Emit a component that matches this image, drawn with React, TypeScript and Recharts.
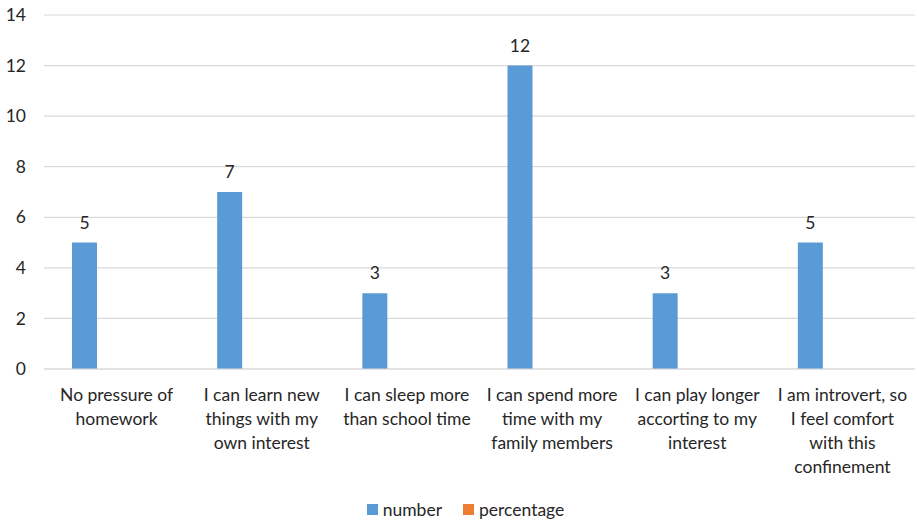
import React from "react";
import {
  BarChart,
  Bar,
  XAxis,
  YAxis,
  CartesianGrid,
  Legend,
  LabelList,
} from "recharts";

// survey answers: why pupils like staying at home
const categories = [
  "No pressure of\nhomework",
  "I can learn new\nthings with my\nown interest",
  "I can sleep more\nthan school time",
  "I can spend more\ntime with my\nfamily members",
  "I can play longer\naccorting to my\ninterest",
  "I am introvert, so\nI feel comfort\nwith this\nconfinement",
];
const numberValues = [5, 7, 3, 12, 3, 5];
const percentageValues = [0, 0, 0, 0, 0, 0];
const yTicks = [0, 2, 4, 6, 8, 10, 12, 14];

const data = categories.map((name, i) => ({
  name,
  number: numberValues[i],
  percentage: percentageValues[i],
}));

const FONT = "Lato, 'Open Sans', sans-serif";
const TEXT = "#262626";
const FS = 17.5;

const CategoryTick = ({ x, y, payload }: any) => {
  const lines = String(payload.value).split("\n");
  return (
    <g transform={`translate(${x},${y})`}>
      <text textAnchor="middle" fill={TEXT} fontSize={FS} fontFamily={FONT}>
        {lines.map((line, i) => (
          <tspan key={i} x={0} y={401 - y + i * 24}>
            {line}
          </tspan>
        ))}
      </text>
    </g>
  );
};

const LegendContent = () => (
  <div
    style={{
      display: "flex",
      justifyContent: "center",
      alignItems: "center",
      fontFamily: FONT,
      fontSize: FS,
      color: TEXT,
      paddingLeft: 16,
      paddingTop: 6,
    }}
  >
    <span style={{ display: "flex", alignItems: "center", marginRight: 21 }}>
      <span
        style={{ width: 11, height: 11, background: "#5B9BD5", marginRight: 5 }}
      />
      number
    </span>
    <span style={{ display: "flex", alignItems: "center" }}>
      <span
        style={{ width: 11, height: 11, background: "#ED7D31", marginRight: 5 }}
      />
      percentage
    </span>
  </div>
);

const App: React.FC = () => {
  return (
    <div style={{ position: "absolute", left: 0, top: 0, background: "#fff" }}>
      <BarChart
        width={917}
        height={523}
        data={data}
        margin={{ top: 15, right: 2, left: 0, bottom: 0 }}
        barGap={40}
        barSize={25}
      >
        <CartesianGrid vertical={false} stroke="#d9d9d9" strokeWidth={1.2} />
        <XAxis
          dataKey="name"
          interval={0}
          height={124}
          tickLine={false}
          axisLine={{ stroke: "#d9d9d9", strokeWidth: 1.2 }}
          tick={<CategoryTick />}
        />
        <YAxis
          width={44}
          domain={[0, 14]}
          ticks={yTicks}
          tickLine={false}
          axisLine={false}
          tickMargin={12}
          tick={{ fill: TEXT, fontSize: FS, fontFamily: FONT }}
        />
        <Legend verticalAlign="bottom" height={30} content={<LegendContent />} />
        <Bar dataKey="number" fill="#5B9BD5" isAnimationActive={false}>
          <LabelList
            dataKey="number"
            position="top"
            offset={14}
            fill={TEXT}
            fontSize={FS}
            fontFamily={FONT}
          />
        </Bar>
        <Bar dataKey="percentage" fill="#ED7D31" isAnimationActive={false} />
      </BarChart>
    </div>
  );
};

export default App;
